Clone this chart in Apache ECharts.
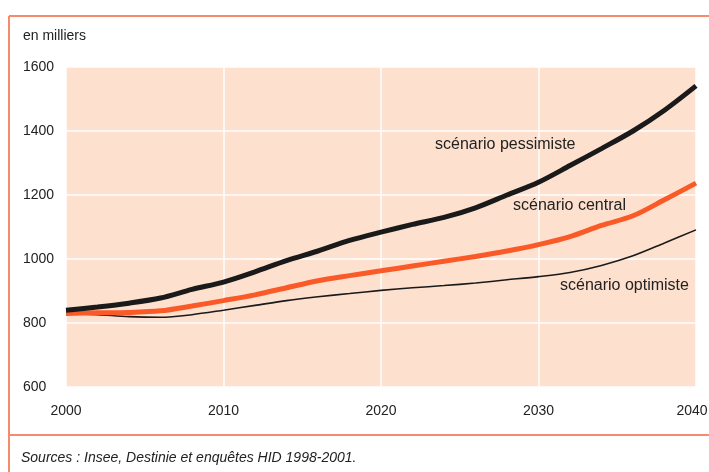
<!DOCTYPE html>
<html>
<head>
<meta charset="utf-8">
<script src="https://cdn.jsdelivr.net/npm/echarts@6/dist/echarts.min.js"></script>
<style>html,body{margin:0;padding:0;background:#fff;}#c{width:709px;height:472px;}</style>
</head>
<body>
<div id="c"></div>
<script>
const years = [2000,2002,2004,2006,2008,2010,2012,2014,2016,2018,2020,2022,2024,2026,2028,2030,2032,2034,2036,2038,2040];
const pessimiste = [840,850,862,878,905,928,960,995,1025,1058,1084,1108,1130,1160,1200,1240,1292,1345,1400,1465,1541];
const central = [830,832,833,838,853,870,888,910,932,948,963,978,993,1008,1025,1045,1070,1105,1135,1185,1237];
const optimiste = [830,826,820,818,826,840,855,870,882,892,902,910,917,925,935,945,958,980,1010,1050,1091];
const yTicks = [600,800,1000,1200,1400,1600];
const xTicks = [2000,2010,2020,2030,2040];

const pair = (arr) => years.map((y,i)=>[y,arr[i]]);
const font = '"Liberation Sans Narrow","Liberation Sans",Arial,sans-serif';
const frame = '#f58a6c';

const chart = echarts.init(document.getElementById('c'));
chart.setOption({
  animation:false,
  grid:{left:66,right:13,top:67,bottom:85,show:true,backgroundColor:'#fde0ce',borderWidth:0,
    containLabel:false,outerBoundsMode:'none'},
  xAxis:{type:'value',min:2000,max:2040,interval:10,
    axisLine:{show:false},axisTick:{show:false},
    splitLine:{show:true,lineStyle:{color:'#ffffff',width:1.5}},
    axisLabel:{color:'#222',fontFamily:font,fontSize:14,margin:17,
      formatter:(v)=>{
        if(!xTicks.includes(v)) return '';
        return v===xTicks[xTicks.length-1] ? '{last|'+v+'}' : String(v);
      },
      rich:{last:{color:'#222',fontFamily:font,fontSize:14,padding:[0,8,0,0]}}}},
  yAxis:{type:'value',min:600,max:1600,interval:200,
    axisLine:{show:false},axisTick:{show:false},
    splitLine:{show:true,lineStyle:{color:'#ffffff',width:1.5}},
    axisLabel:{color:'#222',fontFamily:font,fontSize:14,margin:43,align:'left',
      formatter:(v)=>yTicks.includes(v)?String(v):''}},
  series:[
    {type:'line',data:pair(optimiste),showSymbol:false,smooth:0.3,
      lineStyle:{color:'#1a1a1a',width:1.6}},
    {type:'line',data:pair(central),showSymbol:false,smooth:0.3,
      lineStyle:{color:'#fa5a28',width:5}},
    {type:'line',data:pair(pessimiste),showSymbol:false,smooth:0.3,
      lineStyle:{color:'#1a1a1a',width:5}}
  ],
  graphic:[
    {type:'line',z:100,shape:{x1:9,y1:16,x2:709,y2:16},style:{stroke:frame,lineWidth:2}},
    {type:'line',z:100,shape:{x1:9,y1:16,x2:9,y2:472},style:{stroke:frame,lineWidth:2}},
    {type:'line',z:100,shape:{x1:9,y1:435,x2:709,y2:435},style:{stroke:frame,lineWidth:2}},
    {type:'text',z:100,left:23,top:29,style:{text:'en milliers',fill:'#222',font:'14px '+font}},
    {type:'text',z:100,left:435,top:137,style:{text:'scénario pessimiste',fill:'#222',font:'16px '+font}},
    {type:'text',z:100,left:513,top:198,style:{text:'scénario central',fill:'#222',font:'16px '+font}},
    {type:'text',z:100,left:560,top:278,style:{text:'scénario optimiste',fill:'#222',font:'16px '+font}},
    {type:'text',z:100,left:21,top:451,style:{text:'Sources : Insee, Destinie et enquêtes HID 1998-2001.',fill:'#222',font:'italic 14px '+font}}
  ]
});
</script>
</body>
</html>
